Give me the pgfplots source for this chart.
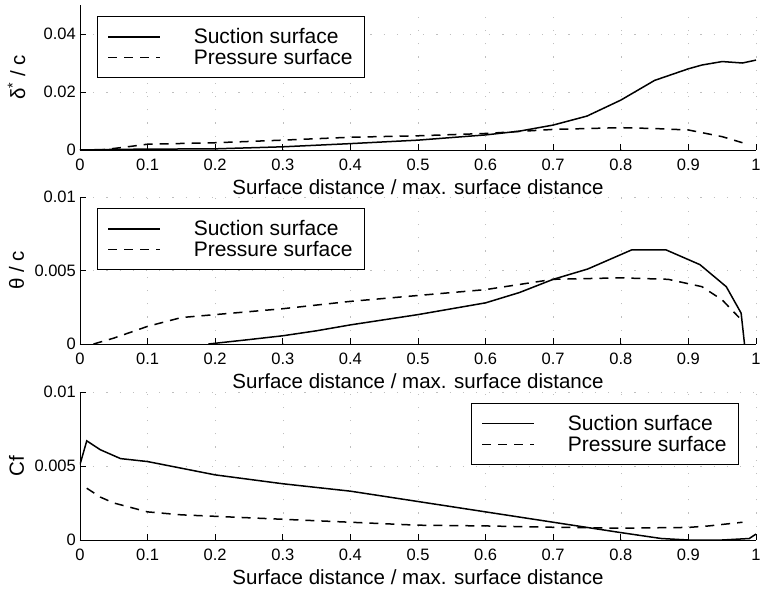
\documentclass[border=0pt]{standalone}
\usepackage{fontspec}
\setmainfont{Liberation Sans}
\usepackage{pgfplots}
\pgfplotsset{compat=1.18}
\pgfplotsset{
  myax/.style={
    scale only axis, width=676pt,
    xmin=0, xmax=1,
    axis x line*=bottom, axis y line*=left,
    axis line style={-, line width=0.9pt},
    tick align=inside, major tick length=6pt,
    tick style={line width=0.8pt, black},
    xtick={0,0.1,0.2,0.3,0.4,0.5,0.6,0.7,0.8,0.9,1},
    xticklabels={0,0.1,0.2,0.3,0.4,0.5,0.6,0.7,0.8,0.9,1},
    scaled y ticks=false, scaled x ticks=false,
    /pgf/number format/assume math mode=true,
    ticklabel style={font=\fontsize{16.5}{18}\selectfont},
    every x tick label/.append style={inner sep=0pt, yshift=-9pt},
    every y tick label/.append style={inner sep=0pt, xshift=-4pt},
    every axis x label/.style={at={(axis description cs:0.5,0)}, anchor=center, yshift=-37pt, font=\fontsize{20.5}{23}\selectfont},
    every axis y label/.style={at={(axis description cs:-0.094,0.5)}, rotate=90, anchor=center, font=\fontsize{20.5}{23}\selectfont},
    xlabel={Surface distance / max. surface distance},
    grid=major,
    major grid style={gray!50, line width=0.6pt, dash pattern=on 1.2pt off 12pt},
    legend cell align=left,
    legend style={font=\fontsize{21}{23}\selectfont, draw=black, line width=0.8pt,
      inner xsep=10pt, inner ysep=10pt, row sep=0pt,
      /tikz/every odd column/.append style={column sep=31pt}},
    legend image code/.code={\draw[#1] (0pt,0pt) -- (52pt,0pt);},
    suc/.style={black, line width=1.5pt},
    pre/.style={black, line width=1.5pt, dash pattern=on 9pt off 7pt},
  }
}
\begin{document}
\begin{tikzpicture}
\path[use as bounding box] (-80pt,-50pt) rectangle (681pt,540pt);
% plot 1
\begin{axis}[myax, at={(0pt,390pt)}, anchor=south west, height=145pt,
  ymin=0, ymax=0.05, ytick={0,0.02,0.04}, yticklabels={0,0.02,0.04},
  ylabel={δ\textsuperscript{*} / c},
  legend style={at={(rel axis cs:0.025,0.924)}, anchor=north west}]
\addplot[suc] coordinates {(0,0) (0.05,0.0002) (0.1,0.0003) (0.2,0.0004) (0.3,0.0011) (0.4,0.0022) (0.5,0.0034) (0.6,0.0052) (0.65,0.0065) (0.7,0.0086) (0.75,0.0117) (0.8,0.0172) (0.85,0.024) (0.9,0.028) (0.92,0.0293) (0.95,0.0305) (0.98,0.0300) (1.0,0.031)};
\addplot[pre] coordinates {(0,0) (0.03,0) (0.06,0.0008) (0.1,0.002) (0.2,0.0025) (0.3,0.0034) (0.4,0.0044) (0.5,0.0049) (0.6,0.0057) (0.7,0.0071) (0.8,0.0077) (0.85,0.0074) (0.9,0.0069) (0.95,0.0046) (0.98,0.0025)};
\legend{Suction surface, Pressure surface}
\end{axis}
% plot 2
\begin{axis}[myax, at={(0pt,196pt)}, anchor=south west, height=147pt,
  ymin=0, ymax=0.01, ytick={0,0.005,0.01}, yticklabels={0,0.005,0.01},
  ylabel={θ / c},
  legend style={at={(rel axis cs:0.025,0.925)}, anchor=north west}]
\addplot[suc] coordinates {(0.19,0) (0.25,0.0003) (0.3,0.00056) (0.35,0.0009) (0.4,0.0013) (0.5,0.002) (0.6,0.0028) (0.65,0.0035) (0.7,0.0044) (0.751,0.0051) (0.816,0.0064) (0.867,0.0064) (0.917,0.0054) (0.956,0.0039) (0.978,0.0021) (0.983,0)};
\addplot[pre] coordinates {(0.02,0) (0.05,0.0004) (0.1,0.0012) (0.15,0.0018) (0.2,0.002) (0.3,0.0024) (0.4,0.0029) (0.5,0.0033) (0.6,0.0037) (0.7,0.0044) (0.8,0.0045) (0.87,0.0044) (0.92,0.0039) (0.95,0.003) (0.975,0.0018)};
\legend{Suction surface, Pressure surface}
\end{axis}
% plot 3
\begin{axis}[myax, at={(0pt,0pt)}, anchor=south west, height=148pt,
  ymin=0, ymax=0.01, ytick={0,0.005,0.01}, yticklabels={0,0.005,0.01},
  ylabel={Cf},
  legend style={at={(rel axis cs:0.975,0.926)}, anchor=north east}]
\addplot[suc] coordinates {(0,0.0051) (0.01,0.0067) (0.03,0.0061) (0.06,0.0055) (0.1,0.0053) (0.2,0.0044) (0.3,0.0038) (0.4,0.0033) (0.5,0.0026) (0.6,0.0019) (0.7,0.0012) (0.8,0.0005) (0.86,0.0001) (0.9,0.0) (0.95,0.0) (0.99,0.0001) (1.0,0.0004)};
\addplot[pre] coordinates {(0.01,0.0035) (0.03,0.0029) (0.05,0.0025) (0.1,0.0019) (0.15,0.0017) (0.2,0.0016) (0.3,0.0014) (0.4,0.0012) (0.5,0.001) (0.6,0.00095) (0.7,0.00086) (0.8,0.0008) (0.9,0.00085) (0.93,0.00095) (0.96,0.0011) (0.98,0.0012)};
\legend{Suction surface, Pressure surface}
\end{axis}
\end{tikzpicture}
\end{document}
